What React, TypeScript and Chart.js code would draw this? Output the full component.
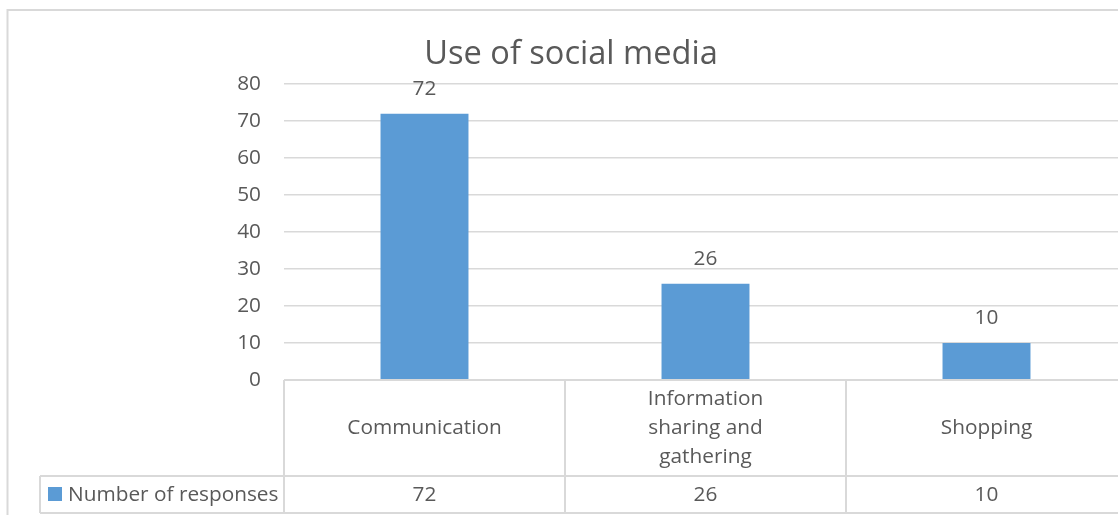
import React, { useEffect, useRef } from 'react';
import { Chart, registerables } from 'chart.js';

Chart.register(...registerables);

// ---- data ----
const TITLE = 'Use of social media';
const CATEGORIES: string[][] = [
  ['Communication'],
  ['Information', 'sharing and', 'gathering'],
  ['Shopping'],
];
const SERIES_NAME = 'Number of responses';
const RESPONSES = [72, 26, 10];
const Y_MIN = 0;
const Y_MAX = 80;
const Y_STEP = 10;

// ---- style ----
const W = 1145;
const H = 530;
const FONT = '"Open Sans", "DejaVu Sans", sans-serif';
const TEXT = '#595959';
const LINE = '#d9d9d9';
const BAR = '#5b9bd5';
const SMALL = 20.8;

const decorPlugin = {
  id: 'decor',
  beforeDraw(chart: any) {
    const ctx = chart.ctx;
    ctx.save();
    ctx.fillStyle = '#ffffff';
    ctx.fillRect(0, 0, W, H);
    ctx.strokeStyle = LINE;
    ctx.lineWidth = 2;
    ctx.strokeRect(7.5, 10, W, H);
    ctx.restore();
  },
  afterDatasetsDraw(chart: any) {
    const ctx = chart.ctx;
    const meta = chart.getDatasetMeta(0);
    ctx.save();
    ctx.font = `${SMALL}px ${FONT}`;
    ctx.fillStyle = TEXT;
    ctx.textAlign = 'center';
    ctx.textBaseline = 'middle';
    meta.data.forEach((bar: any, i: number) => {
      ctx.fillText(String(RESPONSES[i]), bar.x, bar.y - 25);
    });
    ctx.restore();
  },
  afterDraw(chart: any) {
    const ctx = chart.ctx;
    const area = chart.chartArea;
    const xs = chart.scales.x;
    const n = CATEGORIES.length;
    const colW = (area.right - area.left) / n;
    const top = area.bottom;
    const row1 = 96;
    const row2 = 37;
    const legendLeft = 40;
    const centers = CATEGORIES.map((_, i) => xs.getPixelForValue(i));
    const bounds = centers.map((c) => c - colW / 2);
    bounds.push(centers[n - 1] + colW / 2);

    ctx.save();
    ctx.strokeStyle = LINE;
    ctx.lineWidth = 2;
    ctx.beginPath();
    ctx.moveTo(area.left, top);
    ctx.lineTo(W, top);
    ctx.moveTo(legendLeft, top + row1);
    ctx.lineTo(W, top + row1);
    ctx.moveTo(legendLeft, top + row1 + row2);
    ctx.lineTo(W, top + row1 + row2);
    ctx.moveTo(legendLeft, top + row1);
    ctx.lineTo(legendLeft, top + row1 + row2);
    bounds.forEach((b) => {
      ctx.moveTo(b, top);
      ctx.lineTo(b, top + row1 + row2);
    });
    ctx.stroke();

    ctx.font = `${SMALL}px ${FONT}`;
    ctx.fillStyle = TEXT;
    ctx.textAlign = 'center';
    ctx.textBaseline = 'middle';
    const lh = 29;
    CATEGORIES.forEach((lines, i) => {
      const midY = top + row1 / 2;
      const startY = midY - ((lines.length - 1) * lh) / 2;
      lines.forEach((ln, j) => ctx.fillText(ln, centers[i], startY + j * lh));
      ctx.fillText(String(RESPONSES[i]), centers[i], top + row1 + row2 / 2 + 1);
    });

    // legend key
    ctx.fillStyle = BAR;
    ctx.fillRect(48, top + row1 + 11, 14, 14);
    ctx.fillStyle = TEXT;
    ctx.textAlign = 'left';
    ctx.fillText(SERIES_NAME, 68, top + row1 + row2 / 2 + 1);
    ctx.restore();
  },
};

export default function App() {
  const canvasRef = useRef<HTMLCanvasElement | null>(null);

  useEffect(() => {
    const canvas = canvasRef.current;
    if (!canvas) return;
    const chart = new Chart(canvas, {
      type: 'bar',
      data: {
        labels: CATEGORIES,
        datasets: [
          {
            label: SERIES_NAME,
            data: RESPONSES,
            backgroundColor: BAR,
            categoryPercentage: 1,
            barPercentage: 0.313,
          },
        ],
      },
      options: {
        responsive: false,
        animation: false,
        devicePixelRatio: 1,
        layout: { padding: { left: 15, right: 18, top: 0, bottom: 0 } },
        plugins: {
          legend: { display: false },
          tooltip: { enabled: false },
          title: {
            display: true,
            text: TITLE,
            color: TEXT,
            font: { family: FONT, size: 32.6, weight: 'normal', lineHeight: 1.2 },
            padding: { top: 35, bottom: 10 },
          },
        },
        scales: {
          x: {
            type: 'category',
            grid: { display: false },
            border: { display: false },
            ticks: { display: false },
            afterFit: (scale: any) => {
              scale.height = H - 380;
            },
          },
          y: {
            min: Y_MIN,
            max: Y_MAX,
            ticks: {
              stepSize: Y_STEP,
              padding: 23,
              color: TEXT,
              font: { family: FONT, size: SMALL },
            },
            grid: { color: LINE, lineWidth: 1.5, drawTicks: false },
            border: { display: false },
            afterFit: (scale: any) => {
              scale.width = 269;
            },
          },
        },
      },
      plugins: [decorPlugin],
    } as any);
    return () => chart.destroy();
  }, []);

  return (
    <div
      style={{
        position: 'fixed',
        left: 0,
        top: 0,
        width: 1118,
        height: 515,
        overflow: 'hidden',
        background: '#fff',
      }}
    >
      <canvas ref={canvasRef} width={W} height={H} style={{ width: W, height: H, display: 'block' }} />
    </div>
  );
}
